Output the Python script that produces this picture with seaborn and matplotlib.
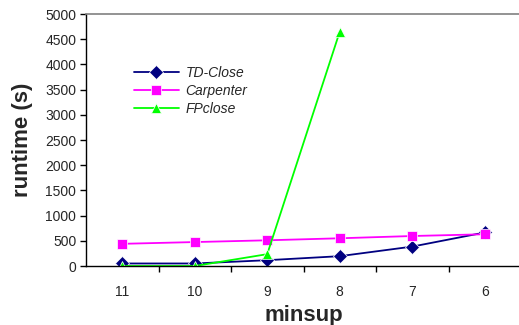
import matplotlib
matplotlib.use("Agg")
import matplotlib.pyplot as plt
import numpy as np
import pandas as pd
import seaborn as sns

# Data
minsup = ["11", "10", "9", "8", "7", "6"]
td_close = [50, 50, 115, 195, 385, 665]
carpenter = [440, 475, 510, 550, 595, 630]
fpclose = [0, 0, 235, 4650, np.nan, np.nan]

series = ["TD-Close", "Carpenter", "FPclose"]
df = pd.DataFrame({
    "minsup": minsup * 3,
    "runtime": td_close + carpenter + fpclose,
    "algo": [s for s in series for _ in minsup],
})
df = df.dropna()

sns.set_style("white")
plt.rcParams["font.family"] = ["Liberation Sans", "DejaVu Sans"]

fig = plt.figure(figsize=(5.19, 3.25), dpi=100)
ax = fig.add_axes([86 / 519, 1 - 266 / 325, 435 / 519, 252 / 325])

palette = {"TD-Close": "#000080", "Carpenter": "#FF00FF", "FPclose": "#00FF00"}
markers = {"TD-Close": "D", "Carpenter": "s", "FPclose": "^"}
sns.lineplot(data=df, x="minsup", y="runtime", hue="algo", style="algo",
             palette=palette, markers=markers, dashes=False, ax=ax,
             linewidth=1.3, markersize=7, markeredgewidth=0.5, sort=False)

ax.set_xlim(-0.5, 5.5)
ax.set_ylim(0, 5000)
ax.set_yticks(range(0, 5001, 500))
ax.set_xticks(range(len(minsup)))
ax.set_xticklabels(minsup)
ax.set_xticks(np.arange(0.5, 5, 1), minor=True)
ax.tick_params(axis="x", which="major", length=0, labelsize=10, pad=14)
ax.tick_params(axis="x", which="minor", length=4, width=1, direction="out", color="black")
ax.tick_params(axis="y", length=4, width=1, direction="out", color="black", labelsize=10, pad=3)
ax.yaxis.set_ticks_position("left")
ax.xaxis.set_ticks_position("bottom")

for side in ["left", "bottom"]:
    ax.spines[side].set_color("black")
    ax.spines[side].set_linewidth(1)
ax.spines["top"].set_color("#808080")
ax.spines["top"].set_linewidth(1.2)
ax.spines["right"].set_visible(False)

ax.set_xlabel("minsup", fontsize=16, fontweight="bold", labelpad=4)
ax.set_ylabel("runtime (s)", fontsize=16, fontweight="bold", labelpad=9)

leg = ax.legend(loc="upper left", bbox_to_anchor=(0.095, 0.822), frameon=False,
                handlelength=3.2, fontsize=10, labelspacing=0.3, borderpad=0,
                handletextpad=0.5, title=None)
for t in leg.get_texts():
    t.set_fontstyle("italic")

fig.savefig("out.png", dpi=100)
